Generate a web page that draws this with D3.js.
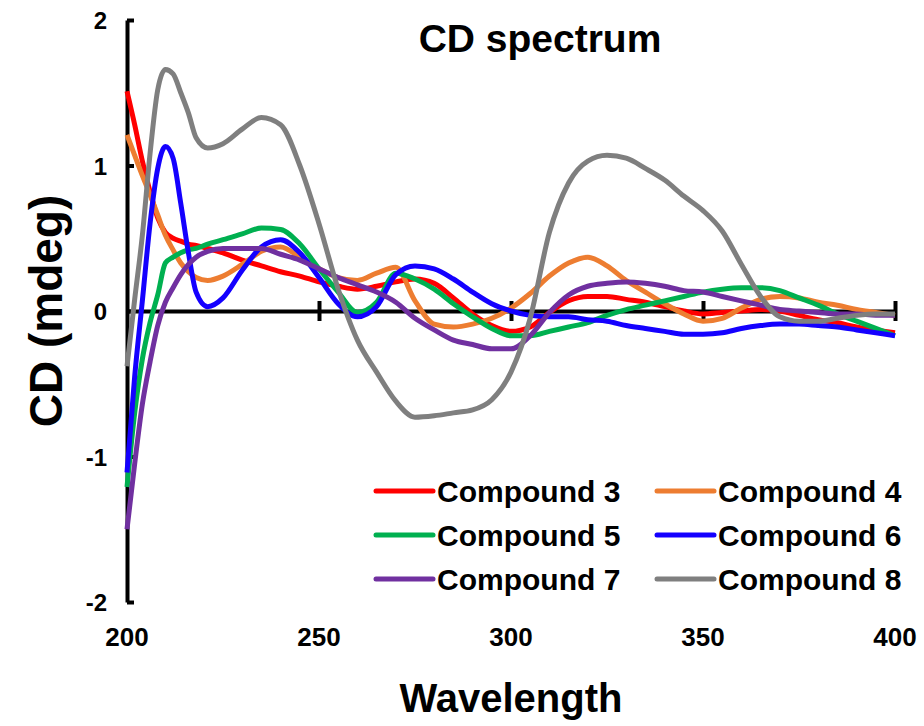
<!DOCTYPE html>
<html>
<head>
<meta charset="utf-8">
<script src="https://cdn.jsdelivr.net/npm/d3@7"></script>
<style>
  body { margin:0; background:#fff; }
  text { font-family:"Liberation Sans", Arial, sans-serif; font-weight:bold; fill:#000; }
</style>
</head>
<body>
<div id="chart"></div>
<script>
// wavelength grid (nm)
var wavelength = [200,202,204,206,208,210,212,214,216,218,221,
  225,230,235,240,245,250,255,260,265,270,275,280,285,290,295,300,
  305,310,315,320,325,330,335,340,345,350,355,360,365,370,375,380,385,390,395,400]

var compound3 = [1.51,1.28,1.03,0.82,0.64,0.54,0.50,0.48,0.46,0.45,0.43,
  0.40,0.35,0.31,0.27,0.24,0.20,0.17,0.15,0.17,0.20,0.22,0.19,0.09,-0.02,-0.10,-0.14,
  -0.11,-0.01,0.07,0.10,0.10,0.08,0.06,0.03,0.00,-0.02,-0.01,0.00,0.01,0.00,-0.03,-0.06,-0.08,-0.11,-0.13,-0.15]
var compound4 = [1.21,1.07,0.93,0.80,0.66,0.52,0.42,0.33,0.27,0.23,0.21,
  0.24,0.32,0.41,0.44,0.37,0.29,0.23,0.21,0.26,0.30,0.07,-0.09,-0.11,-0.09,-0.05,0.02,
  0.12,0.24,0.33,0.37,0.31,0.21,0.13,0.05,-0.02,-0.07,-0.05,0.02,0.08,0.10,0.09,0.06,0.04,0.01,-0.01,-0.03]
var compound5 = [-1.21,-0.70,-0.33,-0.08,0.11,0.33,0.37,0.40,0.42,0.43,0.46,
  0.49,0.53,0.57,0.56,0.46,0.29,0.13,-0.01,0.06,0.26,0.22,0.15,0.05,-0.04,-0.12,-0.17,
  -0.17,-0.14,-0.11,-0.08,-0.03,0.01,0.04,0.07,0.10,0.13,0.15,0.16,0.16,0.14,0.09,0.04,-0.02,-0.07,-0.12,-0.17]
var compound6 = [-1.11,-0.45,0.07,0.60,0.98,1.13,1.05,0.74,0.40,0.13,0.03,
  0.09,0.28,0.44,0.49,0.40,0.23,0.05,-0.04,0.03,0.25,0.31,0.29,0.22,0.13,0.05,0.00,
  -0.03,-0.04,-0.04,-0.06,-0.07,-0.10,-0.12,-0.14,-0.16,-0.16,-0.15,-0.12,-0.10,-0.09,-0.09,-0.10,-0.11,-0.13,-0.15,-0.17]
var compound7 = [-1.50,-1.05,-0.64,-0.35,-0.10,0.06,0.16,0.25,0.32,0.37,0.41,
  0.43,0.43,0.43,0.39,0.35,0.29,0.23,0.18,0.13,0.06,-0.05,-0.13,-0.20,-0.23,-0.26,-0.26,
  -0.17,-0.01,0.11,0.17,0.19,0.20,0.19,0.17,0.14,0.13,0.10,0.07,0.04,0.01,0.00,-0.01,-0.02,-0.02,-0.03,-0.03]
var compound8 = [-0.38,0.08,0.52,1.08,1.52,1.66,1.63,1.50,1.36,1.19,1.12,
  1.15,1.25,1.33,1.28,1.00,0.60,0.15,-0.20,-0.42,-0.62,-0.73,-0.72,-0.70,-0.68,-0.61,-0.42,
  -0.05,0.54,0.88,1.03,1.07,1.05,0.98,0.90,0.79,0.69,0.55,0.32,0.10,-0.04,-0.07,-0.07,-0.05,-0.03,-0.02,-0.02]

var seriesNames = ["Compound 3","Compound 4","Compound 5","Compound 6","Compound 7","Compound 8"]
var seriesValues = [compound3, compound4, compound5, compound6, compound7, compound8]
var seriesColors = ["#FF0000","#ED7D31","#00B050","#1400FF","#7030A0","#7F7F7F"]
var xTicks = [200,250,300,350,400]
var yTicks = [2,1,0,-1,-2]

var W = 924, H = 726
var svg = d3.select("#chart").append("svg").attr("width", W).attr("height", H)

var x = d3.scaleLinear().domain([200,400]).range([127,895])
var y = d3.scaleLinear().domain([-2,2]).range([602,20])

// y axis: vertical line with inward ticks
var yAx = d3.axisRight(y).tickValues(yTicks).tickSize(7).tickSizeOuter(0).tickFormat("")
svg.append("g").attr("class","yaxis")
  .attr("transform", `translate(${x(200)},0)`)
  .call(yAx)
  .call(g => g.selectAll("path,line").attr("stroke","#000").attr("stroke-width",4))

svg.append("g").selectAll("text").data(yTicks).enter().append("text")
  .attr("x", 107).attr("y", d => y(d) + 9)
  .attr("text-anchor","end").attr("font-size", 24)
  .text(d => d)

// x axis along zero, crossing ticks
var xAx = d3.axisBottom(x).tickValues(xTicks.slice(1)).tickSize(10).tickSizeOuter(0).tickFormat("")
var gx = svg.append("g").attr("class","xaxis")
  .attr("transform", `translate(0,${y(0)})`)
  .call(xAx)
gx.selectAll("line").attr("y1",-10)
gx.selectAll("path,line").attr("stroke","#000").attr("stroke-width",4)

svg.append("g").selectAll("text").data(xTicks).enter().append("text")
  .attr("x", d => x(d)).attr("y", 646)
  .attr("text-anchor","middle").attr("font-size", 26)
  .text(d => d)

// curves
var line = d3.line()
  .x((d,i) => x(wavelength[i]))
  .y(d => y(d))
  .curve(d3.curveMonotoneX)

svg.append("g").selectAll("path").data(seriesValues).enter().append("path")
  .attr("fill","none")
  .attr("stroke", (d,i) => seriesColors[i])
  .attr("stroke-width", 5)
  .attr("stroke-linejoin","round")
  .attr("d", line)

// legend, two columns
var leg = svg.append("g").selectAll("g").data(seriesNames).enter().append("g")
  .attr("transform", (d,i) => `translate(${i % 2 ? 657 : 376},${491 + Math.floor(i/2)*44})`)
leg.append("line")
  .attr("x1",0).attr("x2",57).attr("y1",0).attr("y2",0)
  .attr("stroke", (d,i) => seriesColors[i]).attr("stroke-width",5).attr("stroke-linecap","round")
leg.append("text")
  .attr("x", 61).attr("y", 11).attr("font-size", 30)
  .text(d => d)

// titles
svg.append("text").attr("x", 540).attr("y", 52).attr("text-anchor","middle")
  .attr("font-size", 39).text("CD spectrum")
svg.append("text").attr("x", 511).attr("y", 712).attr("text-anchor","middle")
  .attr("font-size", 40).text("Wavelength")
svg.append("text").attr("transform","translate(62,311) rotate(-90)").attr("text-anchor","middle")
  .attr("font-size", 46).text("CD (mdeg)")
</script>
</body>
</html>
